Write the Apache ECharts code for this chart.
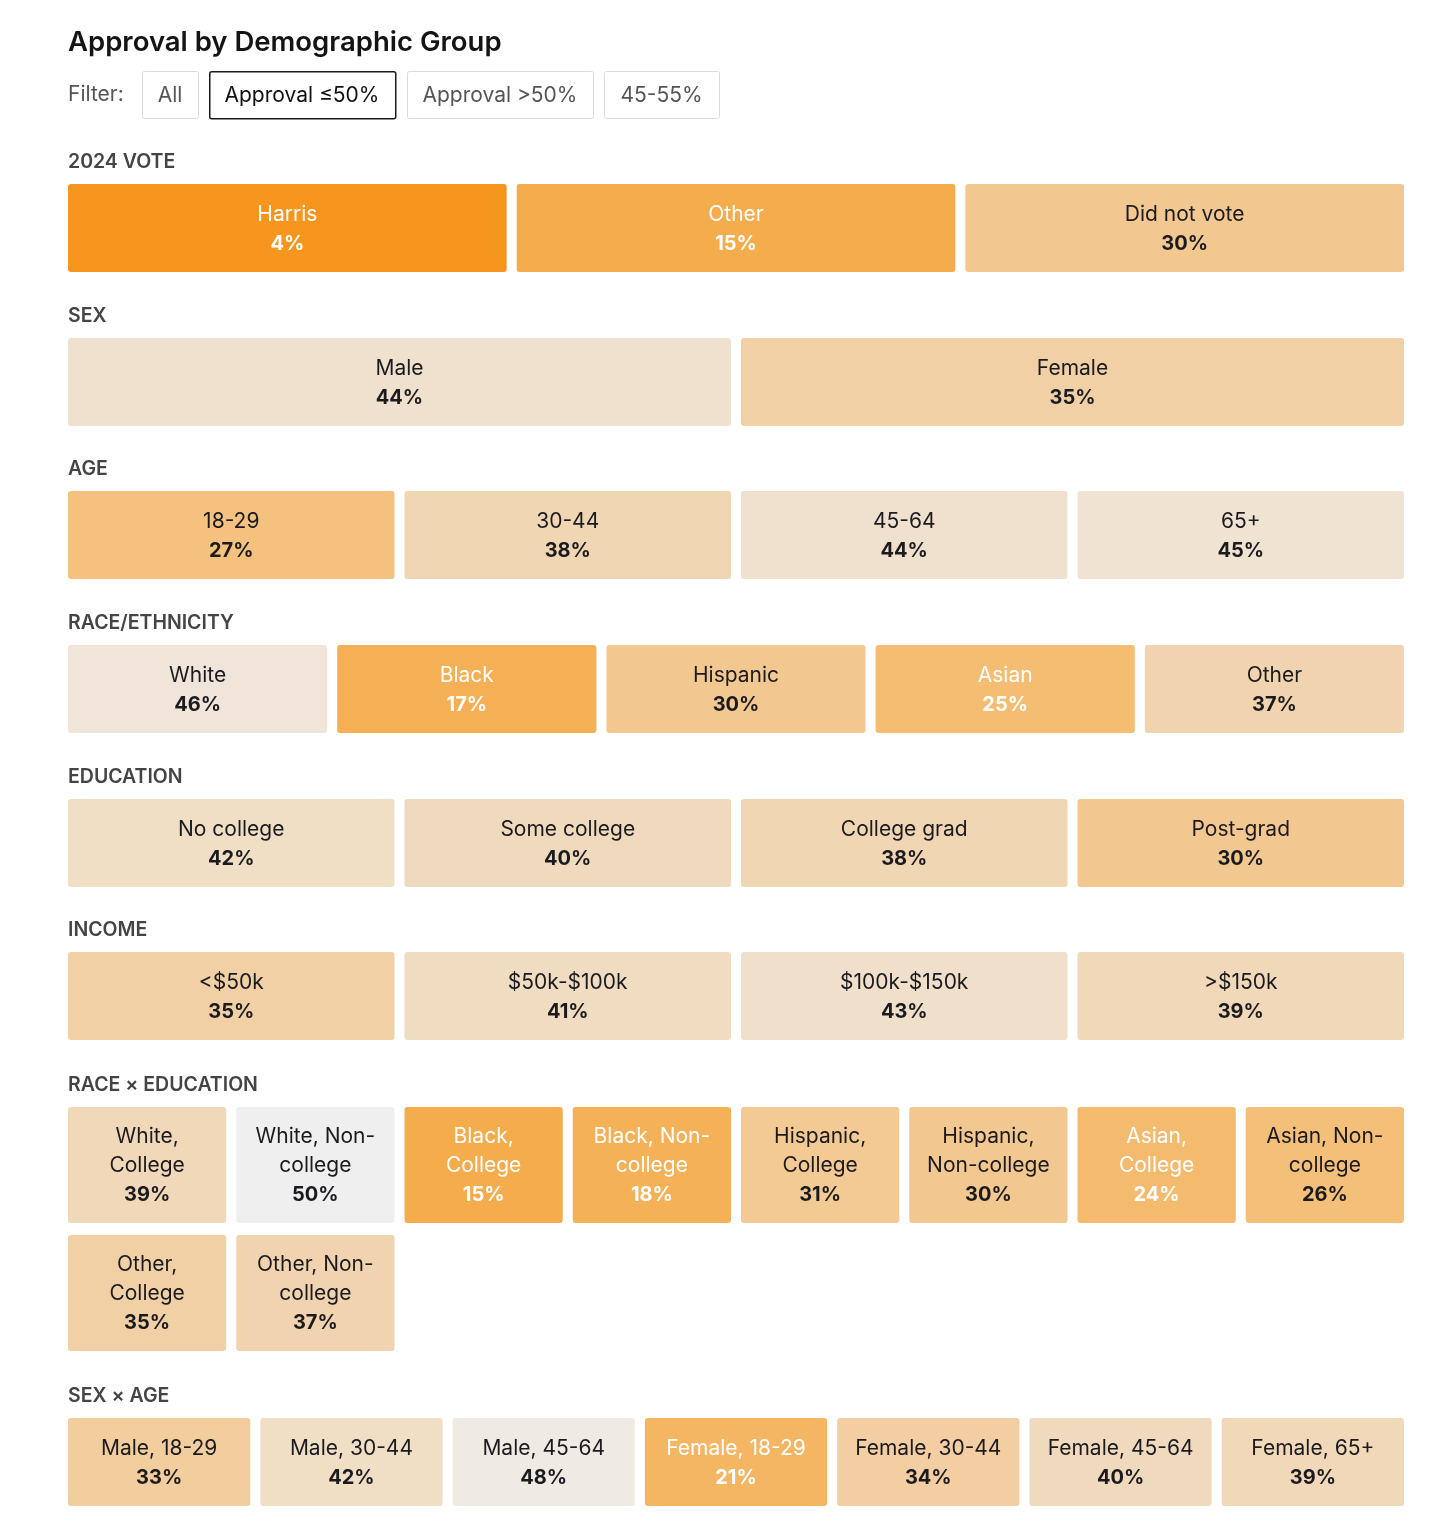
<!DOCTYPE html>
<html>
  <head>
    <meta charset="utf-8" />
    <title>Approval by Demographic Group</title>
    <script src="https://cdn.jsdelivr.net/npm/echarts@6.0.0/dist/echarts.min.js"></script>
    <style>
      html, body { margin: 0; padding: 0; background: #fff; }
    </style>
  </head>
  <body>
    <div id="main" style="width: 1456px;height:1531px;"></div>
    <script type="text/javascript">
      // data
      var voteCats = ['Harris', 'Other', 'Did not vote'];
      var voteVals = [4, 15, 30];
      var sexCats = ['Male', 'Female'];
      var sexVals = [44, 35];
      var ageCats = ['18-29', '30-44', '45-64', '65+'];
      var ageVals = [27, 38, 44, 45];
      var raceCats = ['White', 'Black', 'Hispanic', 'Asian', 'Other'];
      var raceVals = [46, 17, 30, 25, 37];
      var eduCats = ['No college', 'Some college', 'College grad', 'Post-grad'];
      var eduVals = [42, 40, 38, 30];
      var incomeCats = ['<$50k', '$50k-$100k', '$100k-$150k', '>$150k'];
      var incomeVals = [35, 41, 43, 39];
      var raceEduCats = ['White,\nCollege', 'White, Non-\ncollege', 'Black,\nCollege', 'Black, Non-\ncollege',
        'Hispanic,\nCollege', 'Hispanic,\nNon-college', 'Asian,\nCollege', 'Asian, Non-\ncollege',
        'Other,\nCollege', 'Other, Non-\ncollege'];
      var raceEduVals = [39, 50, 15, 18, 31, 30, 24, 26, 35, 37];
      var sexAgeCats = ['Male, 18-29', 'Male, 30-44', 'Male, 45-64', 'Female, 18-29', 'Female, 30-44', 'Female, 45-64', 'Female, 65+'];
      var sexAgeVals = [33, 42, 48, 21, 34, 40, 39];
      var filterLabels = ['All', 'Approval \u226450%', 'Approval >50%', '45-55%'];
      // colour ramp for approval 0,5,10,...,50
      var rampColors = ['#f8901a', '#f7981f', '#f6a136', '#f5ac4c', '#f5b460', '#f4bd72',
        '#f3c890', '#f2d0a6', '#f0dabd', '#f0e3d2', '#efefef'];

      var chartDom = document.getElementById('main');
      var myChart = echarts.init(chartDom);
      var option;

      var FONT = 'Inter, "Noto Sans", sans-serif';
      var GAP_X = 10;

      // sections: label, categories, values, columns, rows, tile top, tile height, row gap
      var sections = [
        { name: '2024 VOTE', cats: voteCats, vals: voteVals, cols: 3, rows: 1, top: 184, h: 88, gapY: 0 },
        { name: 'SEX', cats: sexCats, vals: sexVals, cols: 2, rows: 1, top: 338, h: 88, gapY: 0 },
        { name: 'AGE', cats: ageCats, vals: ageVals, cols: 4, rows: 1, top: 491, h: 88, gapY: 0 },
        { name: 'RACE/ETHNICITY', cats: raceCats, vals: raceVals, cols: 5, rows: 1, top: 645, h: 88, gapY: 0 },
        { name: 'EDUCATION', cats: eduCats, vals: eduVals, cols: 4, rows: 1, top: 799, h: 88, gapY: 0 },
        { name: 'INCOME', cats: incomeCats, vals: incomeVals, cols: 4, rows: 1, top: 952, h: 88, gapY: 0 },
        { name: 'RACE \u00d7 EDUCATION', cats: raceEduCats, vals: raceEduVals, cols: 8, rows: 2, top: 1107, h: 116, gapY: 12 },
        { name: 'SEX \u00d7 AGE', cats: sexAgeCats, vals: sexAgeVals, cols: 7, rows: 1, top: 1418, h: 88, gapY: 0 }
      ];

      function makeRender(sec) {
        return function (params, api) {
          var col = api.value(0);
          var row = api.value(1);
          var val = api.value(2);
          var pt = api.coord([col, row]);
          var size = api.size([1, 1]);
          var w = size[0] - GAP_X;
          var h = size[1] - sec.gapY;
          var name = sec.cats[params.dataIndex];
          var txtColor = val <= 25 ? '#ffffff' : '#1b1b1f';
          return {
            type: 'group',
            children: [
              {
                type: 'rect',
                shape: { x: pt[0], y: pt[1], width: w, height: h, r: 3 },
                style: { fill: api.visual('color') }
              },
              {
                type: 'text',
                x: pt[0] + w / 2,
                y: pt[1] + h / 2 + 1,
                style: {
                  text: name + '\n{v|' + val + '%}',
                  align: 'center',
                  verticalAlign: 'middle',
                  fill: txtColor,
                  font: '400 21px ' + FONT,
                  lineHeight: 29,
                  rich: {
                    v: { fontFamily: FONT, fontSize: 20, fontWeight: 700, fill: txtColor, lineHeight: 29 }
                  }
                }
              }
            ]
          };
        };
      }

      var grids = [], xAxes = [], yAxes = [], series = [], titles = [];
      titles.push({
        text: 'Approval by Demographic Group',
        left: 68, top: 29, padding: 0,
        textStyle: { fontFamily: FONT, fontSize: 27.5, fontWeight: 600, color: '#141414' }
      });
      sections.forEach(function (sec, i) {
        var slotH = sec.h + sec.gapY;
        grids.push({ left: 68, top: sec.top, width: 1336 + GAP_X, height: slotH * sec.rows, containLabel: false });
        xAxes.push({ type: 'value', gridIndex: i, min: 0, max: sec.cols, show: false });
        yAxes.push({ type: 'value', gridIndex: i, min: 0, max: sec.rows, inverse: true, show: false });
        var data = sec.vals.map(function (v, k) {
          return [k % sec.cols, Math.floor(k / sec.cols), v];
        });
        series.push({
          type: 'custom',
          name: sec.name,
          xAxisIndex: i,
          yAxisIndex: i,
          renderItem: makeRender(sec),
          encode: { x: 0, y: 1 },
          data: data,
          silent: true
        });
        titles.push({
          text: sec.name,
          left: 68, top: sec.top - 32, padding: 0,
          textStyle: { fontFamily: FONT, fontSize: 19.5, fontWeight: 600, color: '#444444' }
        });
      });

      // filter bar (UI chrome above the chart)
      var btnX = [142, 209, 407, 604];
      var btnW = [56, 186, 186, 115];
      var graphics = [{
        type: 'text', x: 68, y: 95,
        style: { text: 'Filter:', font: '400 21px ' + FONT, fill: '#555555', verticalAlign: 'middle' }
      }];
      filterLabels.forEach(function (lab, i) {
        var active = i === 1;
        graphics.push({
          type: 'rect', left: btnX[i], top: 71,
          shape: { width: btnW[i], height: 47, r: 2 },
          style: { fill: '#ffffff', stroke: active ? '#1a1a1a' : '#dcdcdc', lineWidth: active ? 1.5 : 1 }
        });
        graphics.push({
          type: 'text', x: btnX[i] + btnW[i] / 2, y: 96,
          style: {
            text: lab, align: 'center', verticalAlign: 'middle',
            font: '400 21px ' + FONT, fill: active ? '#111111' : '#555555'
          }
        });
      });

      option = {
        animation: false,
        backgroundColor: '#ffffff',
        title: titles,
        grid: grids,
        xAxis: xAxes,
        yAxis: yAxes,
        visualMap: {
          show: false,
          type: 'continuous',
          min: 0,
          max: 50,
          dimension: 2,
          seriesIndex: series.map(function (s, i) { return i; }),
          inRange: { color: rampColors }
        },
        graphic: graphics,
        series: series
      };

      option && myChart.setOption(option);
    </script>
  </body>
</html>
